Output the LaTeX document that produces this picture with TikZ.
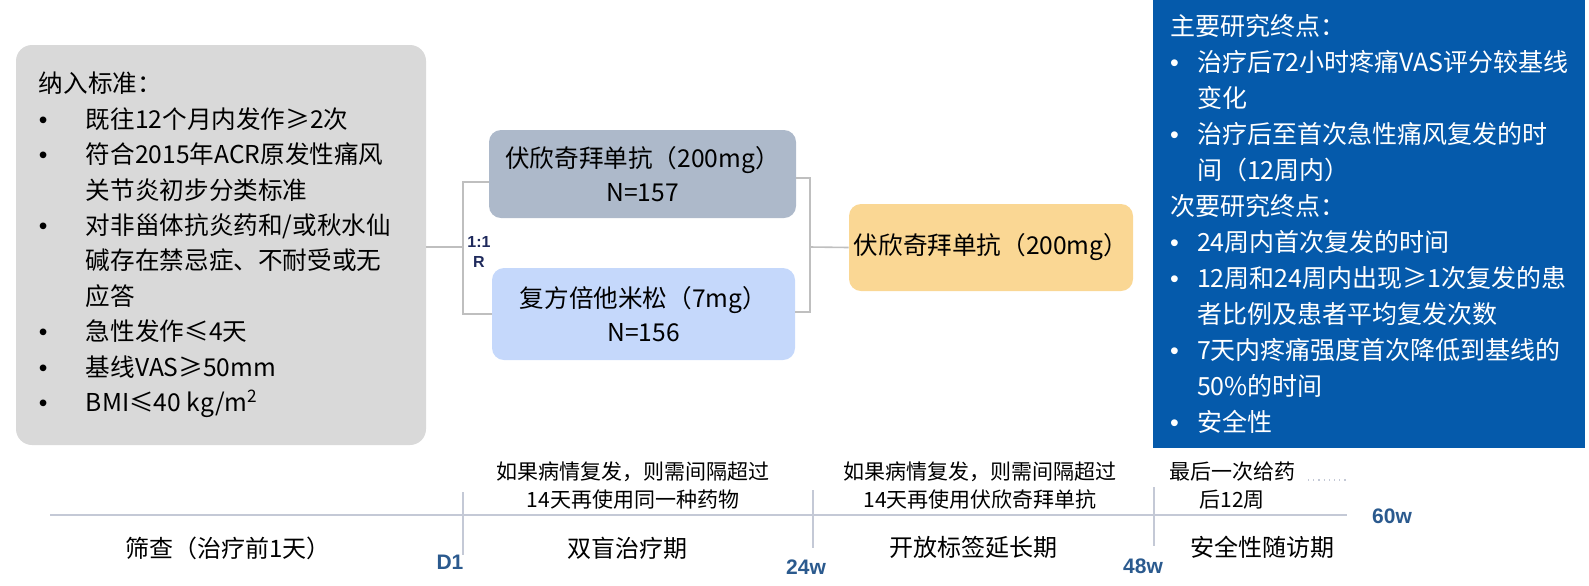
\documentclass[tikz,border=0pt]{standalone}
\usepackage{fontspec}
\setmainfont{Noto Sans CJK SC}
\newfontfamily\tickfont{Liberation Sans}
\usetikzlibrary{positioning}
\definecolor{inclc}{HTML}{D9D9D9}
\definecolor{armac}{HTML}{ADB9CA}
\definecolor{armbc}{HTML}{C5D8FB}
\definecolor{extc}{HTML}{FAD794}
\definecolor{endc}{HTML}{055AAB}
\definecolor{linkc}{HTML}{BFBFBF}
\definecolor{axisc}{HTML}{C4C9D6}
\definecolor{tickc}{HTML}{2B5A8E}
\definecolor{randc}{HTML}{1F2A5C}
\newcommand{\bitem}{\makebox[23.5pt][l]{\tickfont •}}
\newcommand{\bcont}{\hspace*{23.5pt}}
\newcommand{\eitem}{\makebox[13.5pt][l]{\tickfont •}}
\newcommand{\econt}{\hspace*{13.5pt}}

\begin{document}
\begin{tikzpicture}[x=0.5pt, y=-0.5pt, box/.style={rectangle, rounded corners=6pt, align=center, inner sep=0pt}, boxtext/.style={font=\fontsize{12.3pt}{17pt}\selectfont}, link/.style={draw=linkc, line width=0.8pt}, phase/.style={font=\fontsize{12pt}{14pt}\selectfont}, note/.style={align=center, font=\fontsize{10.5pt}{14pt}\selectfont}, wlabel/.style={text=tickc, font=\tickfont\bfseries\fontsize{10.5pt}{12pt}\selectfont}, axis/.style={draw=axisc, line width=0.6pt}]

    \useasboundingbox (0,0) rectangle (1589,585);

    % inclusion criteria
    \node[box, fill=inclc, rounded corners=8pt, minimum width=205pt, minimum height=200pt] (inclbox) at (221,245) {};
    \node[right=11.5pt of inclbox.west, inner sep=0pt, align=left, font=\fontsize{12.3pt}{17.7pt}\selectfont] (incltext) {纳入标准：\\
      \bitem 既往12个月内发作≥2次\\
      \bitem 符合2015年ACR原发性痛风\\
      \bcont 关节炎初步分类标准\\
      \bitem 对非甾体抗炎药和/或秋水仙\\
      \bcont 碱存在禁忌症、不耐受或无\\
      \bcont 应答\\
      \bitem 急性发作≤4天\\
      \bitem 基线VAS≥50mm\\
      \bitem BMI≤40 kg/m\textsuperscript{2}};

    % arms
    \node[box, boxtext, fill=armac, minimum width=153.5pt, minimum height=44pt] (armA) at (642.5,174) {伏欣奇拜单抗（200mg）\\N=157};
    \node[box, boxtext, fill=armbc, minimum width=151.5pt, minimum height=46pt] (armB) at (643.5,314) {复方倍他米松（7mg）\\N=156};
    \node[box, boxtext, fill=extc, minimum width=142pt, minimum height=43.5pt] (ext) at (991,247.5) {伏欣奇拜单抗（200mg）};
    \node[align=center, inner sep=0pt, text=randc, font=\tickfont\bfseries\fontsize{8pt}{10pt}\selectfont] (rand) at (479,252) {1:1\\R};

    % endpoints
    \node[fill=endc, minimum width=216pt, minimum height=224pt, inner sep=0pt] (endbox) at (1369,224) {};
    \node[right=8.5pt of endbox.west, inner sep=0pt, align=left, text=white, font=\fontsize{12.5pt}{18pt}\selectfont] (endtext) {主要研究终点：\\
      \eitem 治疗后72小时疼痛VAS评分较基线\\
      \econt 变化\\
      \eitem 治疗后至首次急性痛风复发的时\\
      \econt 间（12周内）\\
      次要研究终点：\\
      \eitem 24周内首次复发的时间\\
      \eitem 12周和24周内出现≥1次复发的患\\
      \econt 者比例及患者平均复发次数\\
      \eitem 7天内疼痛强度首次降低到基线的\\
      \econt 50\%的时间\\
      \eitem 安全性};

    \node[coordinate] (lsplit) at (463,247) {};
    \node[coordinate] (rjoin) at (810,247) {};

    \draw[link] (inclbox.east |- lsplit) -- (lsplit);
    \draw[link] ([yshift=-4pt]armA.west) -| (lsplit) |- (armB.west);
    \draw[link] ([yshift=-2pt]armA.east) -| (rjoin) |- ([yshift=1pt]armB.east);
    \draw[link] (rjoin) -- (ext.west);

    % timeline
    \node[coordinate] (tstart) at (50,515) {};
    \node[coordinate] (tend) at (1347,515) {};
    \node[coordinate] (d1top) at (463,492) {};
    \node[coordinate] (d1bot) at (463,555) {};
    \node[coordinate] (w24top) at (813,490) {};
    \node[coordinate] (w24bot) at (813,548) {};
    \node[coordinate] (w48top) at (1154,487) {};
    \node[coordinate] (w48bot) at (1154,546) {};
    \node[coordinate] (dotstart) at (1308,480) {};
    \node[coordinate] (dotend) at (1347,480) {};

    \draw[axis] (tstart) -- (tend);
    \draw[axis] (d1top) -- (d1bot);
    \draw[axis] (w24top) -- (w24bot);
    \draw[axis] (w48top) -- (w48bot);
    \draw[axis, dotted, line width=0.8pt] (dotstart) -- (dotend);

    \node[wlabel] (d1) at (450,562) {D1};
    \node[wlabel] (w24) at (806,567) {24w};
    \node[wlabel] (w48) at (1143,566) {48w};
    \node[wlabel] (w60) at (1392,516) {60w};

    \node[phase] (screen) at (228,548) {筛查（治疗前1天）};
    \node[phase] (blind) at (627,548) {双盲治疗期};
    \node[phase] (open) at (973,547) {开放标签延长期};
    \node[phase] (follow) at (1262,547) {安全性随访期};

    \node[note] (noteA) at (633,486) {如果病情复发，则需间隔超过\\14天再使用同一种药物};
    \node[note] (noteB) at (980,486) {如果病情复发，则需间隔超过\\14天再使用伏欣奇拜单抗};
    \node[note] (noteC) at (1232,486) {最后一次给药\\后12周};

  \end{tikzpicture}
\end{document}
